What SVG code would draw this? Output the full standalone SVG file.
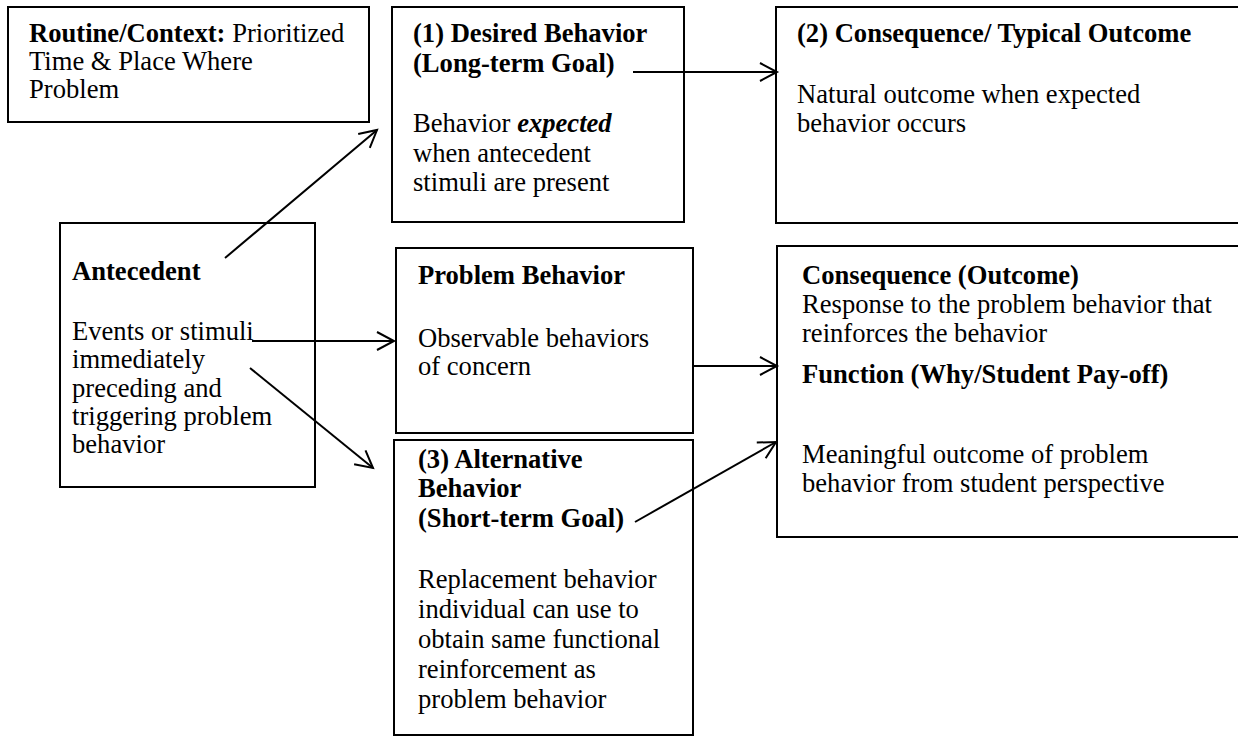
<svg xmlns="http://www.w3.org/2000/svg" width="1238" height="736" viewBox="0 0 1238 736">
<style>
.box{fill:#fff;stroke:#000;stroke-width:2}
text{font-family:"Liberation Serif","Times New Roman",serif;font-size:26.6px;fill:#000}
.b{font-weight:bold}
.bi{font-weight:bold;font-style:italic}
.conn{stroke:#000;stroke-width:2;fill:none}
</style>
<defs>
<marker id="arr" markerUnits="userSpaceOnUse" markerWidth="20" markerHeight="20" refX="18" refY="10" orient="auto" viewBox="0 0 20 20" overflow="visible">
<path d="M1,1 L18,10 L1,19" fill="none" stroke="#000" stroke-width="2"/>
</marker>
</defs>
<rect width="1238" height="736" fill="#fff"/>
<g id="routine">
<rect class="box" x="8" y="7" width="361" height="115"/>
<text x="29" y="42"><tspan class="b">Routine/Context:</tspan> Prioritized</text>
<text x="29" y="70">Time &amp; Place Where</text>
<text x="29" y="98">Problem</text>
</g>
<g id="desired">
<rect class="box" x="392" y="7" width="292" height="215"/>
<text class="b" x="413" y="42">(1) Desired Behavior</text>
<text class="b" x="413" y="72">(Long-term Goal)</text>
<text x="413" y="132">Behavior <tspan class="bi">expected</tspan></text>
<text x="413" y="162">when antecedent</text>
<text x="413" y="191">stimuli are present</text>
</g>
<g id="typical">
<rect class="box" x="776" y="7" width="470" height="216"/>
<text class="b" x="797" y="42">(2) Consequence/ Typical Outcome</text>
<text x="797" y="103">Natural outcome when expected</text>
<text x="797" y="132">behavior occurs</text>
</g>
<g id="antecedent">
<rect class="box" x="60" y="223" width="255" height="264"/>
<text class="b" x="72" y="280">Antecedent</text>
<text x="72" y="340">Events or stimuli</text>
<text x="72" y="368">immediately</text>
<text x="72" y="397">preceding and</text>
<text x="72" y="425">triggering problem</text>
<text x="72" y="453">behavior</text>
</g>
<g id="problem">
<rect class="box" x="396" y="248" width="297" height="185"/>
<text class="b" x="418" y="284">Problem Behavior</text>
<text x="418" y="347">Observable behaviors</text>
<text x="418" y="375">of concern</text>
</g>
<g id="alternative">
<rect class="box" x="394" y="440" width="299" height="295"/>
<text class="b" x="418" y="468">(3) Alternative</text>
<text class="b" x="418" y="497">Behavior</text>
<text class="b" x="418" y="527">(Short-term Goal)</text>
<text x="418" y="588">Replacement behavior</text>
<text x="418" y="618">individual can use to</text>
<text x="418" y="648">obtain same functional</text>
<text x="418" y="678">reinforcement as</text>
<text x="418" y="708">problem behavior</text>
</g>
<g id="outcome">
<rect class="box" x="777" y="246" width="470" height="291"/>
<text class="b" x="802" y="284">Consequence (Outcome)</text>
<text x="802" y="313">Response to the problem behavior that</text>
<text x="802" y="342">reinforces the behavior</text>
<text class="b" x="802" y="383">Function (Why/Student Pay-off)</text>
<text x="802" y="463">Meaningful outcome of problem</text>
<text x="802" y="492">behavior from student perspective</text>
</g>
<g id="connectors">
<line class="conn" x1="225" y1="258" x2="377" y2="130" marker-end="url(#arr)"/>
<line class="conn" x1="633" y1="72" x2="777" y2="72" marker-end="url(#arr)"/>
<line class="conn" x1="252" y1="341" x2="394" y2="341" marker-end="url(#arr)"/>
<line class="conn" x1="250" y1="368" x2="373" y2="468" marker-end="url(#arr)"/>
<line class="conn" x1="693" y1="366" x2="777" y2="366" marker-end="url(#arr)"/>
<line class="conn" x1="635" y1="522" x2="776" y2="442" marker-end="url(#arr)"/>
</g>
</svg>
